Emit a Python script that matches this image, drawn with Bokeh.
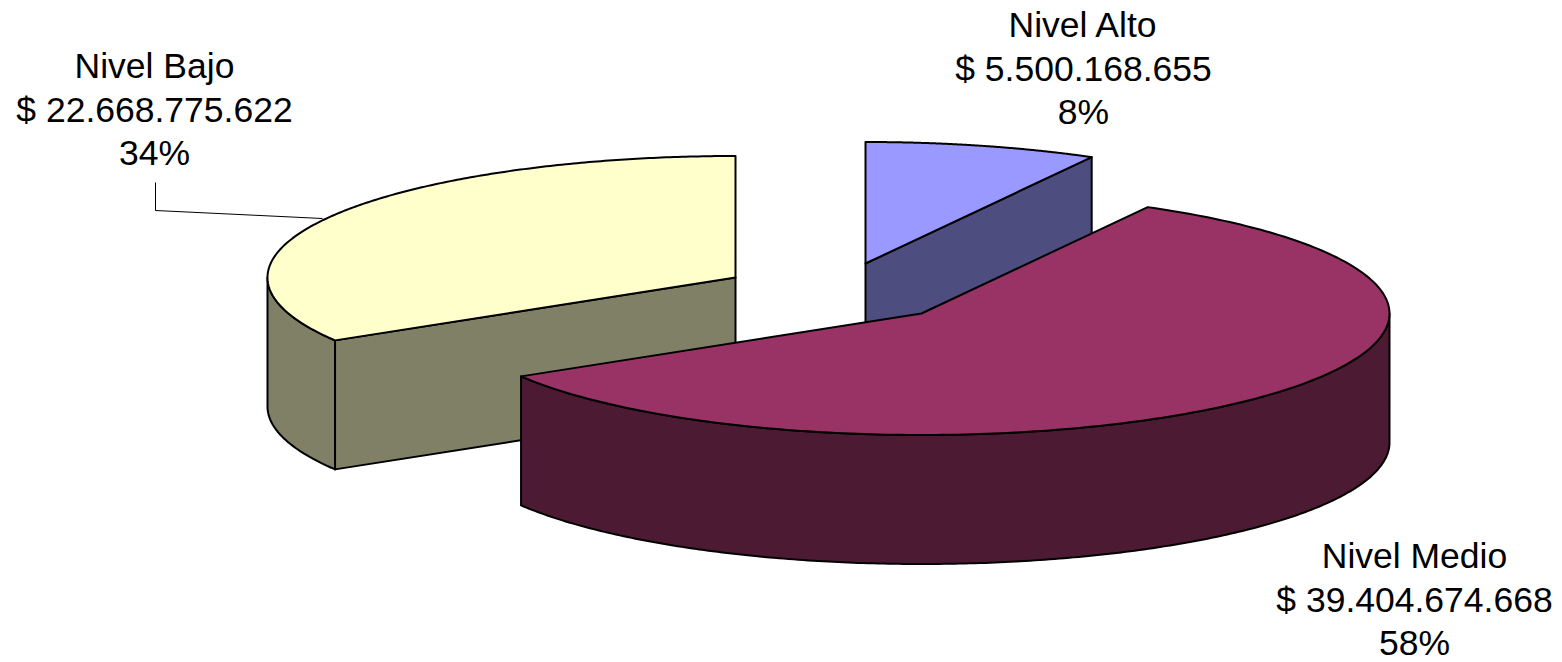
import numpy as np
from bokeh.plotting import figure
from bokeh.models import Range1d
from bokeh.core.properties import value
from bokeh.embed import file_html
from bokeh.resources import INLINE

# Data
categories = ["Nivel Alto", "Nivel Medio", "Nivel Bajo"]
amounts = [5500168655, 39404674668, 22668775622]
amount_labels = ["$ 5.500.168.655", "$ 39.404.674.668", "$ 22.668.775.622"]
percent_labels = ["8%", "58%", "34%"]

# Styles and layout
top_colors = ["#9999FF", "#993366", "#FFFFCC"]
side_colors = ["#4D4D80", "#4D1A33", "#808066"]
apex_x = [865.0, 921.0, 735.0]
apex_y = [263.0, 313.0, 277.0]
RX, RY, DEPTH = 468.0, 121.5, 129.0
BOUNDARY_NUDGE = np.radians(0.4)  # projection correction of the inner slice boundaries
label_x = [1083, 1414, 154]
label_y = [24.5, 555.5, 65.5]
LINE_STEP = 43.7
FONT = value("Liberation Sans")
LW = 2

p = figure(width=1562, height=662, output_backend="svg", toolbar_location=None,
           x_range=Range1d(0, 1562), y_range=Range1d(662, 0), min_border=0,
           background_fill_color="white", border_fill_color="white")
p.axis.visible = False
p.grid.visible = False
p.outline_line_color = None

total = sum(amounts)
sweeps = np.array([a / total * 2 * np.pi for a in amounts])
ends = np.pi / 2 - np.cumsum(sweeps)
starts = ends + sweeps
ends[:2] += BOUNDARY_NUDGE
starts[1:] += BOUNDARY_NUDGE


def arc(i, t0, t1, dy=0.0):
    t = np.linspace(t0, t1, 240)
    return apex_x[i] + RX * np.cos(t), apex_y[i] - RY * np.sin(t) + dy


def draw_side(i, t0, t1):
    """Outer wall between angles t0 > t1."""
    x, y = arc(i, t0, t1)
    xb, yb = arc(i, t1, t0, DEPTH)
    p.patch(np.r_[x, xb], np.r_[y, yb], fill_color=side_colors[i],
            line_color="black", line_width=LW, line_join="round")


def draw_cut(i, t):
    """Flat radial wall at angle t."""
    x, y = arc(i, t, t)
    xs = [apex_x[i], x[0], x[0], apex_x[i]]
    ys = [apex_y[i], y[0], y[0] + DEPTH, apex_y[i] + DEPTH]
    p.patch(xs, ys, fill_color=side_colors[i], line_color="black",
            line_width=LW, line_join="round")


def draw_top(i):
    x, y = arc(i, starts[i], ends[i])
    p.patch(np.r_[apex_x[i], x], np.r_[apex_y[i], y], fill_color=top_colors[i],
            line_color="black", line_width=LW, line_join="round")


# Nivel Bajo (back-left slice)
draw_side(2, starts[2], -np.pi)
draw_cut(2, starts[2])
draw_top(2)

# Nivel Alto (back slice)
draw_cut(0, ends[0])
draw_top(0)

# Nivel Medio (front slice)
draw_side(1, 0.0, ends[1])
draw_top(1)

# Leader line
p.line([155, 155, 322], [182, 210, 218], line_color="black", line_width=1)

# Labels
for i, name in enumerate(categories):
    lines = [name, amount_labels[i], percent_labels[i]]
    ys = [label_y[i] + k * LINE_STEP for k in range(3)]
    p.text([label_x[i]] * 3, ys, text=lines, text_font=FONT,
           text_font_size="35.5px", text_color="black", text_align="center",
           text_baseline="alphabetic")

open("out.html", "w").write(file_html(p, INLINE))
